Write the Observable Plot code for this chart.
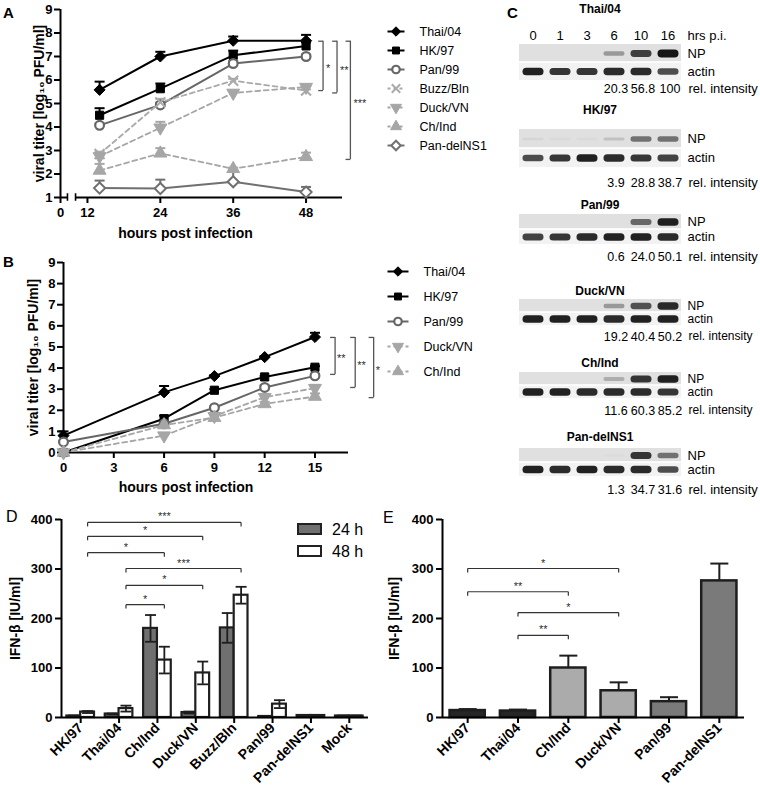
<!DOCTYPE html>
<html><head><meta charset="utf-8">
<script src="https://cdn.jsdelivr.net/npm/d3@7"></script>
<script src="https://cdn.jsdelivr.net/npm/@observablehq/plot@0.6"></script>
<style>
html,body{margin:0;padding:0;background:#fff;}
#fig{position:relative;width:760px;height:798px;overflow:hidden;background:#fff;font-family:'Liberation Sans',Arial,sans-serif;color:#000;}
.pl{position:absolute;line-height:1;}
</style></head><body><div id="fig"></div>
<script>
// ===== Panel A: viral titers 14–48 h =====
const hoursA = [14, 24, 36, 48];
const strainsA = ["Thai/04","HK/97","Pan/99","Buzz/Bln","Duck/VN","Ch/Ind","Pan-delNS1"];
const titerA_Thai04    = [5.58, 7.00, 7.67, 7.67];
const errA_Thai04      = [0.35, 0.20, 0.18, 0.25];
const titerA_HK97      = [4.50, 5.63, 7.05, 7.45];
const errA_HK97        = [0.30, 0.22, 0.20, 0.15];
const titerA_Pan99     = [4.07, 4.94, 6.70, 7.00];
const errA_Pan99       = [0.08, 0.10, 0.10, 0.08];
const titerA_BuzzBln   = [2.85, 5.05, 5.97, 5.55];
const errA_BuzzBln     = [0.10, 0.15, 0.08, 0.05];
const titerA_DuckVN    = [2.75, 3.97, 5.45, 5.70];
const errA_DuckVN      = [0.15, 0.25, 0.10, 0.08];
const titerA_ChInd     = [2.15, 2.88, 2.22, 2.73];
const errA_ChInd       = [0.28, 0.22, 0.05, 0.18];
const titerA_PandelNS1 = [1.40, 1.38, 1.67, 1.23];
const errA_PandelNS1   = [0.32, 0.38, 0.42, 0.22];
const xTicksA = [0, 12, 24, 36, 48];
const yTicksA = [1, 2, 3, 4, 5, 6, 7, 8, 9];
const axisBreakA = [3.1, 6.7];
const sigA_x = [50.8, 53.1, 55.3];
const sigA_top = [7.65, 7.65, 7.65];
const sigA_bottom = [5.55, 5.45, 2.62];
const sigA_label = ["*", "**", "***"];

// ===== Panel B: viral titers 0–15 h =====
const hoursB = [0, 6, 9, 12, 15];
const strainsB = ["Thai/04","HK/97","Pan/99","Duck/VN","Ch/Ind"];
const titerB_Thai04 = [0.80, 2.85, 3.62, 4.52, 5.47];
const errB_Thai04   = [0.20, 0.30, 0.05, 0.05, 0.20];
const titerB_HK97   = [0.00, 1.60, 2.95, 3.58, 4.04];
const errB_HK97     = [0.00, 0.15, 0.05, 0.05, 0.05];
const titerB_Pan99  = [0.50, 1.36, 2.12, 3.08, 3.63];
const errB_Pan99    = [0.05, 0.05, 0.05, 0.10, 0.10];
const titerB_DuckVN = [0.00, 0.80, 1.72, 2.62, 3.05];
const errB_DuckVN   = [0.00, 0.10, 0.10, 0.15, 0.15];
const titerB_ChInd  = [0.00, 1.30, 1.65, 2.30, 2.65];
const errB_ChInd    = [0.00, 0.10, 0.10, 0.10, 0.15];
const xTicksB = [0, 3, 6, 9, 12, 15];
const yTicksB = [0, 1, 2, 3, 4, 5, 6, 7, 8, 9];
const sigB_x = [16.2, 17.4, 18.5];
const sigB_top = [5.45, 5.45, 5.45];
const sigB_bottom = [3.70, 3.08, 2.60];
const sigB_label = ["**", "**", "*"];

// ===== Panel C: western blots =====
const lanesC = ["0", "1", "3", "6", "10", "16"];
const relLanesC = ["6", "10", "16"];
const blotTitles = ["Thai/04", "HK/97", "Pan/99", "Duck/VN", "Ch/Ind", "Pan-delNS1"];
const npThai04   = [0, 0, 0, 0.35, 0.80, 1.00];
const actThai04  = [0.95, 0.85, 0.85, 0.90, 0.90, 0.75];
const relThai04  = ["20.3", "56.8", "100"];
const npHK97     = [0.05, 0.03, 0.03, 0.15, 0.55, 0.55];
const actHK97    = [0.75, 0.85, 0.95, 0.90, 0.85, 0.80];
const relHK97    = ["3.9", "28.8", "38.7"];
const npPan99    = [0, 0, 0, 0, 0.60, 0.95];
const actPan99   = [0.80, 0.85, 0.90, 0.95, 0.95, 0.90];
const relPan99   = ["0.6", "24.0", "50.1"];
const npDuckVN   = [0, 0, 0, 0.35, 0.70, 0.90];
const actDuckVN  = [0.95, 0.95, 0.95, 0.90, 0.95, 0.95];
const relDuckVN  = ["19.2", "40.4", "50.2"];
const npChInd    = [0, 0, 0, 0.25, 0.85, 0.95];
const actChInd   = [0.95, 0.95, 0.90, 0.90, 0.90, 0.85];
const relChInd   = ["11.6", "60.3", "85.2"];
const npPandelNS1  = [0, 0, 0, 0.02, 0.85, 0.55];
const actPandelNS1 = [0.95, 0.90, 0.95, 0.90, 0.90, 0.75];
const relPandelNS1 = ["1.3", "34.7", "31.6"];

// ===== Panel D: IFN-beta 24 h / 48 h =====
const catsD = ["HK/97","Thai/04","Ch/Ind","Duck/VN","Buzz/Bln","Pan/99","Pan-delNS1","Mock"];
const ifn24 = [3, 7, 180, 10, 181, 2, 4, 3];
const ifn24Err = [1, 1, 27, 2, 30, 1, 1, 1];
const ifn48 = [11, 18, 116, 90, 247, 27, 4, 3];
const ifn48Err = [2, 6, 27, 23, 17, 8, 1, 1];
const ifnTicks = [0, 100, 200, 300, 400];
const sigD_from = ["HK/97","HK/97","HK/97","Thai/04","Thai/04","Thai/04"];
const sigD_to = ["Buzz/Bln","Duck/VN","Ch/Ind","Buzz/Bln","Duck/VN","Ch/Ind"];
const sigD_y = [394, 366, 333, 301, 267, 228];
const sigD_label = ["***","*","*","***","*","*"];
const legendD = ["24 h", "48 h"];

// ===== Panel E: IFN-beta =====
const catsE = ["HK/97","Thai/04","Ch/Ind","Duck/VN","Pan/99","Pan-delNS1"];
const ifnE = [14, 13, 100, 54, 32, 276];
const ifnEErr = [3, 3, 25, 17, 9, 35];
const sigE_from = ["HK/97","HK/97","Thai/04","Thai/04"];
const sigE_to = ["Duck/VN","Ch/Ind","Duck/VN","Ch/Ind"];
const sigE_y = [301, 254, 212, 166];
const sigE_label = ["*","**","*","**"];

// ================== drawing ==================
const fig = document.getElementById("fig");
const F = "'Liberation Sans', Arial, Helvetica, sans-serif";
const css = (fs, fw) => `font-family:${F};font-size:${fs}px;font-weight:${fw};background:transparent;overflow:visible;color:#000;`;
function place(el, left, top) {
  el.style.position = "absolute"; el.style.left = left + "px"; el.style.top = top + "px";
  fig.appendChild(el);
}
function label(text, left, top, size, weight) {
  const d = document.createElement("div");
  d.className = "pl"; d.textContent = text;
  d.style.left = left + "px"; d.style.top = top + "px";
  d.style.fontSize = size + "px"; d.style.fontWeight = weight;
  fig.appendChild(d);
}

const triDown = {draw(ctx, size) {
  const y = -Math.sqrt(size / (Math.sqrt(3) * 3)), s3 = Math.sqrt(3);
  ctx.moveTo(0, -2 * y); ctx.lineTo(-s3 * y, y); ctx.lineTo(s3 * y, y); ctx.closePath();
}};
const capSym = {draw(ctx, size) {
  const w = Math.sqrt(size / Math.PI); ctx.moveTo(-w, 0); ctx.lineTo(w, 0);
}};
const bandSym = {draw(ctx, size) {
  const h = Math.sqrt(size / Math.PI), w = 10.5;
  ctx.moveTo(-w + h, -h); ctx.lineTo(w - h, -h);
  ctx.arc(w - h, 0, h, -Math.PI / 2, Math.PI / 2);
  ctx.lineTo(-w + h, h);
  ctx.arc(-w + h, 0, h, Math.PI / 2, 3 * Math.PI / 2);
  ctx.closePath();
}};

const dash = "5,3.5";
const seriesStyle = {
  "Thai/04":    {color: "#000",    symbol: "diamond2", fill: "#000", r: 5,   sw: 1},
  "HK/97":      {color: "#000",    symbol: "square",   fill: "#000", r: 4.6, sw: 1},
  "Pan/99":     {color: "#666",    symbol: "circle",   fill: "#fff", r: 4.4, sw: 2.2},
  "Buzz/Bln":   {color: "#aaa",    symbol: "times",    fill: "none", r: 4.6, sw: 2, dash},
  "Duck/VN":    {color: "#a6a6a6", symbol: triDown,    fill: "#a6a6a6", r: 4.8, sw: 1, dash},
  "Ch/Ind":     {color: "#a6a6a6", symbol: "triangle", fill: "#a6a6a6", r: 4.8, sw: 1, dash},
  "Pan-delNS1": {color: "#707070", symbol: "diamond2", fill: "#fff", r: 5,   sw: 2}
};

// x transform: compresses the 0–12 h stretch of panel A (broken axis)
const tA = h => h >= 12 ? h : 12 - (12 - h) * 27 / 73;
const tAinv = v => v >= 12 ? v : 12 - (12 - v) * 73 / 27;
const ident = h => h;

function tidy(hours, list, tf) {
  return list.flatMap(([s, v, e]) => hours.map((h, i) => ({s, h, x: tf(h), v: v[i], e: e[i]})));
}
function seriesMarks(rows, names) {
  const marks = [];
  for (const n of names) {
    const st = seriesStyle[n], r = rows.filter(d => d.s === n);
    marks.push(Plot.line(r, {x: "x", y: "v", stroke: st.color, strokeWidth: st.dash ? 1.8 : 2, strokeDasharray: st.dash}));
  }
  for (const n of names) {
    const st = seriesStyle[n], r = rows.filter(d => d.s === n && d.e > 0);
    marks.push(Plot.ruleX(r, {x: "x", y1: "v", y2: d => d.v + d.e, stroke: st.color, strokeWidth: 2}));
    marks.push(Plot.dot(r, {x: "x", y: d => d.v + d.e, symbol: capSym, r: 5, stroke: st.color, strokeWidth: 2, fill: "none"}));
  }
  for (const n of names) {
    const st = seriesStyle[n], r = rows.filter(d => d.s === n);
    marks.push(Plot.dot(r, {x: "x", y: "v", symbol: st.symbol, r: st.r, fill: st.fill, stroke: st.color, strokeWidth: st.sw}));
  }
  return marks;
}
function sigMarks(xs, tops, bottoms, labels, tick, gapLabel) {
  const br = xs.map((x, i) => ({x, t: tops[i], b: bottoms[i], l: labels[i]}));
  return [
    Plot.ruleX(br, {x: "x", y1: "t", y2: "b", stroke: "#555", strokeWidth: 1.3}),
    Plot.link(br, {x1: d => d.x - tick, x2: "x", y1: "t", y2: "t", stroke: "#555", strokeWidth: 1.3}),
    Plot.link(br, {x1: d => d.x - tick, x2: "x", y1: "b", y2: "b", stroke: "#555", strokeWidth: 1.3}),
    Plot.text(br, {x: "x", y: d => (d.t + d.b) / 2, text: "l", dx: gapLabel, dy: 3, textAnchor: "start", lineAnchor: "middle", fontSize: 11, fontWeight: "normal", fill: "#222", fillOpacity: 0.99})
  ];
}
function yTitle(text, dx) {
  return Plot.text([text], {text: d => d, frameAnchor: "left", rotate: -90, dx, textAnchor: "middle", lineAnchor: "middle", fontSize: 14, fontWeight: "bold"});
}

// ---------- Panel A ----------
const rowsA = tidy(hoursA, [
  ["Thai/04", titerA_Thai04, errA_Thai04], ["HK/97", titerA_HK97, errA_HK97],
  ["Pan/99", titerA_Pan99, errA_Pan99], ["Buzz/Bln", titerA_BuzzBln, errA_BuzzBln],
  ["Duck/VN", titerA_DuckVN, errA_DuckVN], ["Ch/Ind", titerA_ChInd, errA_ChInd],
  ["Pan-delNS1", titerA_PandelNS1, errA_PandelNS1]
], tA);
const yLabel = "viral titer [log₁₀ PFU/ml]";
place(Plot.plot({
  width: 380, height: 245, marginTop: 9, marginBottom: 48, marginLeft: 60, marginRight: 38,
  x: {domain: [tA(0), 54]},
  y: {domain: [1, 9]},
  style: css(13, "bold"),
  marks: [
    Plot.ruleY([1], {x1: tA(0), x2: tA(axisBreakA[0]), strokeWidth: 2}),
    Plot.ruleY([1], {x1: tA(axisBreakA[1]), x2: 54, strokeWidth: 2}),
    Plot.ruleX(axisBreakA.map(tA), {y1: 0.84, y2: 1.16, strokeWidth: 1.6}),
    Plot.ruleX([tA(0)], {y1: 1, y2: 9, strokeWidth: 2}),
    Plot.axisX({ticks: xTicksA.map(tA), tickFormat: v => String(Math.round(tAinv(v))), tickSize: 6, tickPadding: 4, strokeWidth: 2, label: null}),
    Plot.axisY({ticks: yTicksA, tickSize: 6, tickPadding: 2, strokeWidth: 2, label: null}),
    ...seriesMarks(rowsA, strainsA),
    ...sigMarks(sigA_x, sigA_top, sigA_bottom, sigA_label, 0.8, 3),
    yTitle(yLabel, -21),
    Plot.text(["hours post infection"], {text: d => d, frameAnchor: "bottom", dx: -16, dy: 36, lineAnchor: "middle", fontSize: 14, fontWeight: "bold"})
  ]
}), 0, 0);

// ---------- Panel B ----------
const rowsB = tidy(hoursB, [
  ["Thai/04", titerB_Thai04, errB_Thai04], ["HK/97", titerB_HK97, errB_HK97],
  ["Pan/99", titerB_Pan99, errB_Pan99], ["Duck/VN", titerB_DuckVN, errB_DuckVN],
  ["Ch/Ind", titerB_ChInd, errB_ChInd]
], ident);
place(Plot.plot({
  width: 380, height: 250, marginTop: 12, marginBottom: 48, marginLeft: 63, marginRight: 32,
  x: {domain: [0, 17]},
  y: {domain: [0, 9]},
  style: css(13, "bold"),
  marks: [
    Plot.ruleY([0], {x1: 0, x2: 17, strokeWidth: 2}),
    Plot.ruleX([0], {y1: 0, y2: 9, strokeWidth: 2}),
    Plot.axisX({ticks: xTicksB, tickSize: 6, tickPadding: 4, strokeWidth: 2, label: null}),
    Plot.axisY({ticks: yTicksB, tickSize: 6, tickPadding: 2, strokeWidth: 2, label: null}),
    ...seriesMarks(rowsB, strainsB),
    ...sigMarks(sigB_x, sigB_top, sigB_bottom, sigB_label, 0.3, 2),
    yTitle(yLabel, -30),
    Plot.text(["hours post infection"], {text: d => d, frameAnchor: "bottom", dx: -20, dy: 35, lineAnchor: "middle", fontSize: 14, fontWeight: "bold"})
  ]
}), 0, 250);

// ---------- legends A & B ----------
function seriesLegend(names, width, height, mt, mb, ml, lineLen) {
  const marks = [];
  for (const n of names) {
    const st = seriesStyle[n];
    marks.push(Plot.link([n], {x1: 0, x2: 1, y1: d => d, y2: d => d, stroke: st.color, strokeWidth: 2, strokeDasharray: st.dash ? "3,3" : null}));
    marks.push(Plot.dot([n], {x: 0.5, y: d => d, symbol: st.symbol, r: st.r * 0.85, fill: st.fill, stroke: st.color, strokeWidth: st.sw}));
  }
  marks.push(Plot.text(names, {x: 1, y: d => d, text: d => d, dx: 15, textAnchor: "start", fontSize: 12.5, fontWeight: "normal"}));
  return Plot.plot({
    width, height, marginTop: mt, marginBottom: mb, marginLeft: ml, marginRight: width - ml - lineLen,
    x: {domain: [0, 1], axis: null}, y: {type: "point", domain: names, padding: 0, axis: null},
    style: css(12, "normal"), marks
  });
}
place(seriesLegend(strainsA, 130, 145, 10, 16, 7, 17), 380, 18);
place(seriesLegend(strainsB, 130, 120, 10, 10, 7, 21), 380, 261);

// ---------- Panel C ----------
const blotData = [
  {np: npThai04, act: actThai04, rel: relThai04},
  {np: npHK97, act: actHK97, rel: relHK97},
  {np: npPan99, act: actPan99, rel: relPan99},
  {np: npDuckVN, act: actDuckVN, rel: relDuckVN},
  {np: npChInd, act: actChInd, rel: relChInd},
  {np: npPandelNS1, act: actPandelNS1, rel: relPandelNS1}
];
const blotLayout = [
  {titleY: 9,   npTop: 43,  rowH: 18.5, numY: 88,  lanes: true},
  {titleY: 110, npTop: 128, rowH: 19.5, numY: 182},
  {titleY: 205, npTop: 213, rowH: 15.5, numY: 256},
  {titleY: 291, npTop: 298, rowH: 13.5, numY: 336},
  {titleY: 363, npTop: 371, rowH: 13.5, numY: 410},
  {titleY: 437, npTop: 448, rowH: 14,   numY: 489}
];
blotData.forEach((b, bi) => {
  const lay = blotLayout[bi];
  const top = lay.titleY - 9;
  const frameBottom = lay.npTop + 2 * lay.rowH;
  const height = lay.numY + 9 - top;
  const mt = lay.npTop - top;
  const mb = height - mt - 2 * lay.rowH;
  const bands = [];
  lanesC.forEach((l, i) => {
    if (b.np[i] > 0.01) bands.push({lane: l, row: "NP", k: b.np[i]});
    if (b.act[i] > 0.01) bands.push({lane: l, row: "actin", k: b.act[i]});
  });
  const rel = relLanesC.map((l, i) => ({lane: l, t: b.rel[i]}));
  const marks = [
    Plot.cell(lanesC, {x: d => d, y: () => "NP", fill: "#e0e0e0", insetBottom: 0.8}),
    Plot.cell(lanesC, {x: d => d, y: () => "actin", fill: "#f2f2f2", insetTop: 0.8}),
    Plot.dot(bands, {x: "lane", y: "row", r: "k", fillOpacity: "k", symbol: bandSym, fill: "#151515"}),
    Plot.text([blotTitles[bi]], {text: d => d, frameAnchor: "top", dy: lay.titleY - lay.npTop, lineAnchor: "middle", fontWeight: "bold", fontSize: 12}),
    Plot.text(rel, {x: "lane", text: "t", frameAnchor: "bottom", dx: 2, dy: lay.numY - frameBottom, lineAnchor: "middle", fontSize: 12.5}),
    Plot.text(["rel. intensity"], {text: d => d, frameAnchor: "bottom-right", dx: 6, dy: lay.numY - frameBottom, textAnchor: "start", lineAnchor: "middle"})
  ];
  if (lay.lanes) marks.push(Plot.text(["hrs p.i."], {text: d => d, frameAnchor: "top-right", dx: 5, dy: -8, textAnchor: "start", lineAnchor: "middle"}));
  place(Plot.plot({
    width: 260, height, marginTop: mt, marginBottom: mb, marginLeft: 17, marginRight: 78,
    x: {domain: lanesC, padding: 0, axis: lay.lanes ? "top" : null, tickSize: 0, tickPadding: 4, label: null},
    y: {domain: ["NP", "actin"], padding: 0, axis: "right", tickSize: 0, tickPadding: 5, label: null},
    r: {type: "linear", domain: [0, 1], range: [1.2, 4.0]},
    opacity: {type: "linear", domain: [0, 1], range: [0, 1]},
    style: css(lay.rowH < 14 ? 12 : 13, "normal"),
    marks
  }), 500, top);
});

// ---------- bar helpers ----------
function bracketMarks(cats, from, to, ys, labels, off) {
  const br = from.map((f, i) => ({a: cats.indexOf(f) + off, b: cats.indexOf(to[i]) + off, y: ys[i], l: labels[i]}));
  return [
    Plot.link(br, {x1: "a", x2: "b", y1: "y", y2: "y", stroke: "#333", strokeWidth: 1.2}),
    Plot.link(br, {x1: "a", x2: "a", y1: "y", y2: d => d.y - 8, stroke: "#333", strokeWidth: 1.2}),
    Plot.link(br, {x1: "b", x2: "b", y1: "y", y2: d => d.y - 8, stroke: "#333", strokeWidth: 1.2}),
    Plot.text(br, {x: d => (d.a + d.b) / 2, y: "y", text: "l", dy: -2, lineAnchor: "bottom", fontSize: 11, fontWeight: "normal", fill: "#222", fillOpacity: 0.99})
  ];
}
const ifnLabel = "IFN-β [IU/ml]";

// ---------- Panel D ----------
const W = 0.36;
const rowsD = catsD.map((c, i) => ({c, i, v24: ifn24[i], e24: ifn24Err[i], v48: ifn48[i], e48: ifn48Err[i]}));
const errD = rowsD.flatMap(d => [
  {x: d.i - W / 2, lo: Math.max(0, d.v24 - d.e24), hi: d.v24 + d.e24},
  {x: d.i + W / 2, lo: Math.max(0, d.v48 - d.e48), hi: d.v48 + d.e48}
]);
place(Plot.plot({
  width: 380, height: 298, marginTop: 19, marginBottom: 81, marginLeft: 61, marginRight: 12,
  x: {domain: [-0.5, catsD.length - 0.5]},
  y: {domain: [0, 400]},
  style: css(13, "bold"),
  marks: [
    Plot.rect(rowsD, {x1: d => d.i - W, x2: "i", y1: 0, y2: "v24", fill: "#707070", stroke: "#1e1e1e", strokeWidth: 2.2}),
    Plot.rect(rowsD, {x1: "i", x2: d => d.i + W, y1: 0, y2: "v48", fill: "#fff", stroke: "#1e1e1e", strokeWidth: 2.2}),
    Plot.ruleX(errD, {x: "x", y1: "lo", y2: "hi", stroke: "#1e1e1e", strokeWidth: 1.8}),
    Plot.dot(errD, {x: "x", y: "hi", symbol: capSym, r: 5.5, stroke: "#1e1e1e", strokeWidth: 1.8, fill: "none"}),
    Plot.dot(errD, {x: "x", y: "lo", symbol: capSym, r: 5.5, stroke: "#1e1e1e", strokeWidth: 1.8, fill: "none"}),
    Plot.ruleY([0], {x1: -0.5, x2: catsD.length - 0.5, strokeWidth: 2}),
    Plot.ruleX([-0.5], {y1: 0, y2: 400, strokeWidth: 2}),
    Plot.axisY({ticks: ifnTicks, tickSize: 6, tickPadding: 3, strokeWidth: 2, label: null}),
    Plot.axisX({ticks: d3.range(catsD.length), tickFormat: i => catsD[i], tickRotate: -45, tickSize: 6, tickPadding: 2, strokeWidth: 2, label: null, fontSize: 14}),
    ...bracketMarks(catsD, sigD_from, sigD_to, sigD_y, sigD_label, W / 2),
    yTitle(ifnLabel, -46)
  ]
}), 0, 500);
// legend D
const swatchD = [{fill: "#707070", top: 523}, {fill: "#fff", top: 545}];
legendD.forEach((t, i) => {
  const b = document.createElement("div");
  b.style.cssText = `position:absolute;left:297px;top:${swatchD[i].top}px;width:21px;height:8px;border:2.5px solid #222;background:${swatchD[i].fill};`;
  fig.appendChild(b);
  label(t, 332, swatchD[i].top - 1, 16, "normal");
});

// ---------- Panel E ----------
const rowsE = catsE.map((c, i) => ({c, i, v: ifnE[i], e: ifnEErr[i]}));
const fillE = {"HK/97": "#262626", "Thai/04": "#262626", "Ch/Ind": "#ababab", "Duck/VN": "#ababab", "Pan/99": "#7a7a7a", "Pan-delNS1": "#7a7a7a"};
place(Plot.plot({
  width: 380, height: 298, marginTop: 19, marginBottom: 81, marginLeft: 62, marginRight: 16,
  x: {domain: [-0.5, catsE.length - 0.5]},
  y: {domain: [0, 400]},
  color: {type: "identity"},
  style: css(13, "bold"),
  marks: [
    Plot.ruleX(rowsE, {x: "i", y1: "v", y2: d => d.v + d.e, stroke: "#1e1e1e", strokeWidth: 2}),
    Plot.dot(rowsE, {x: "i", y: d => d.v + d.e, symbol: capSym, r: 9, stroke: "#1e1e1e", strokeWidth: 2, fill: "none"}),
    Plot.rect(rowsE, {x1: d => d.i - 0.35, x2: d => d.i + 0.35, y1: 0, y2: "v", fill: d => fillE[d.c], stroke: "#1e1e1e", strokeWidth: 2.5}),
    Plot.ruleY([0], {x1: -0.5, x2: catsE.length - 0.5, strokeWidth: 2}),
    Plot.ruleX([-0.5], {y1: 0, y2: 400, strokeWidth: 2}),
    Plot.axisY({ticks: ifnTicks, tickSize: 6, tickPadding: 3, strokeWidth: 2, label: null}),
    Plot.axisX({ticks: d3.range(catsE.length), tickFormat: i => catsE[i], tickRotate: -45, tickSize: 6, tickPadding: 2, strokeWidth: 2, label: null, fontSize: 14}),
    ...bracketMarks(catsE, sigE_from, sigE_to, sigE_y, sigE_label, 0),
    yTitle(ifnLabel, -48)
  ]
}), 380, 500);

// panel letters
label("A", 3, 5, 15, "bold");
label("B", 3, 254, 15, "bold");
label("C", 507, 5, 15, "bold");
label("D", 6, 509, 16, "normal");
label("E", 383, 510, 16, "normal");
</script></body></html>
